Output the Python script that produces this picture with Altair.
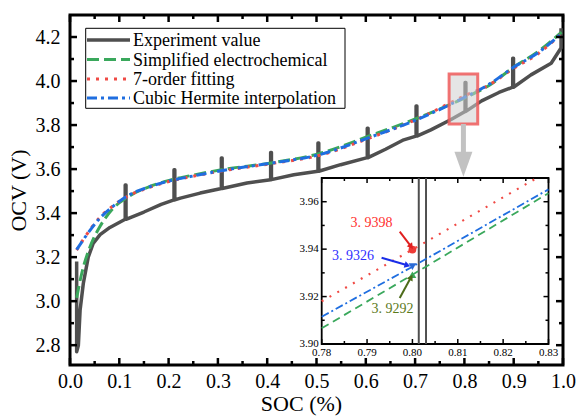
import math
import altair as alt
import pandas as pd

# ---------------- layout ----------------
W, H = 493, 350
PAD = {"left": 70, "top": 15, "right": 13, "bottom": 52}
FONT = "Liberation Serif"

X_DOM = [0.0, 1.0]
Y_DOM = [2.71, 4.30]
X_TICKS = [0.0, 0.1, 0.2, 0.3, 0.4, 0.5, 0.6, 0.7, 0.8, 0.9, 1.0]
X_MINOR = [0.05, 0.15, 0.25, 0.35, 0.45, 0.55, 0.65, 0.75, 0.85, 0.95]
Y_TICKS = [2.8, 3.0, 3.2, 3.4, 3.6, 3.8, 4.0, 4.2]
Y_MINOR = [2.9, 3.1, 3.3, 3.5, 3.7, 3.9, 4.1]

# ---------------- series names / styles ----------------
names = ["Experiment value", "Simplified electrochemical", "7-order fitting",
         "Cubic Hermite interpolation"]
colors = ["#4f4f4f", "#3aa85c", "#f04a45", "#1f6ee0"]
dashes = [[1, 0], [12, 5], [3, 6], [10, 4, 3, 4]]
widths = [3.5, 3, 3, 3]

# ---------------- experiment data (segments between relaxation spikes) ----------------
exp_seg_x = [[0.0135, 0.0135, 0.017, 0.0205, 0.027, 0.037, 0.047, 0.061, 0.081],
             [0.15, 0.185], [0.224, 0.264], [0.359], [0.454], [0.549],
             [0.64, 0.677], [0.732, 0.772], [0.835, 0.87], [0.935, 0.976]]
exp_seg_y = [[3.18, 2.77, 2.80, 2.96, 3.08, 3.20, 3.262, 3.302, 3.335],
             [3.405, 3.44], [3.468, 3.491], [3.537], [3.574], [3.62],
             [3.69, 3.733], [3.778, 3.824], [3.91, 3.948], [4.028, 4.081]]
spike_x = [0.112, 0.211, 0.307, 0.407, 0.503, 0.603, 0.702, 0.8014, 0.898, 0.996]
spike_x2 = [0.1136, 0.2126, 0.3086, 0.4086, 0.5046, 0.6046, 0.7036, 0.8030, 0.8996, 0.9976]
spike_bottom = [3.372, 3.46, 3.512, 3.552, 3.59, 3.652, 3.75, 3.862, 3.972, 4.15]
spike_top = [3.528, 3.597, 3.65, 3.675, 3.718, 3.786, 3.887, 3.993, 4.103, 4.24]

# ---------------- model curves ----------------
sim_x = [0.0135, 0.024, 0.041, 0.061, 0.088, 0.115, 0.163, 0.203, 0.244, 0.31, 0.408,
         0.505, 0.604, 0.703, 0.803, 0.85, 0.898, 0.95, 0.997]
sim_y = [3.015, 3.128, 3.249, 3.34, 3.423, 3.47, 3.522, 3.55, 3.57, 3.598, 3.628,
         3.67, 3.748, 3.83, 3.926, 3.98, 4.06, 4.135, 4.222]
fit_x = [0.0135, 0.027, 0.044, 0.061, 0.081, 0.115, 0.163, 0.203, 0.244, 0.31, 0.408,
         0.505, 0.604, 0.703, 0.803, 0.85, 0.898, 0.95, 0.997]
fit_y = [3.232, 3.28, 3.335, 3.382, 3.422, 3.474, 3.518, 3.545, 3.565, 3.592, 3.625,
         3.662, 3.738, 3.826, 3.935, 3.982, 4.055, 4.125, 4.215]
her_x = [0.0135, 0.027, 0.044, 0.061, 0.081, 0.115, 0.163, 0.203, 0.244, 0.31, 0.408,
         0.505, 0.604, 0.703, 0.803, 0.85, 0.898, 0.95, 0.997]
her_y = [3.234, 3.279, 3.332, 3.378, 3.419, 3.476, 3.521, 3.547, 3.566, 3.594, 3.627,
         3.665, 3.741, 3.824, 3.929, 3.985, 4.06, 4.13, 4.215]

# ---------------- highlight box + arrow (main coords) ----------------
hl_x = [0.769, 0.827]
hl_y = [3.805, 4.032]
garrow_x = 0.798
garrow_y = [3.805, 3.672]
garrow_head_y = 3.622

# ---------------- inset ----------------
IN_X_DOM = [0.78, 0.83]
IN_Y_DOM = [3.90, 3.97]
IN_PX = [251.7, 478.5]
IN_PY = [329.0, 163.0]
in_x_ticks = [0.78, 0.79, 0.80, 0.81, 0.82, 0.83]
in_x_minor = [0.785, 0.795, 0.805, 0.815, 0.825]
in_y_ticks = [3.90, 3.92, 3.94, 3.96]
in_y_minor = [3.91, 3.93, 3.95]

in_fit_x = [0.78, 0.80, 0.8274]
in_fit_y = [3.918, 3.9398, 3.970]
in_her_x = [0.78, 0.80, 0.83]
in_her_y = [3.9115, 3.9326, 3.9652]
in_sim_x = [0.78, 0.80, 0.83]
in_sim_y = [3.9066, 3.9292, 3.9636]

mk_x = [0.80, 0.80, 0.80]
mk_y = [3.9398, 3.9326, 3.9292]
mk_shape = ["circle", "triangle-down", "triangle-up"]
mk_color = ["#ee3a36", "#2a6bd6", "#3aa858"]

ann_text = ["3. 9398", "3. 9326", "3. 9292"]
ann_x = [0.7910, 0.7869, 0.7956]
ann_y = [3.9509, 3.9372, 3.9148]
ann_color = ["#ff3030", "#2f2fff", "#5b7a1a"]
arr_x0 = [0.7972, 0.7932, 0.7972]
arr_y0 = [3.9474, 3.9364, 3.9194]
arr_x1 = [0.7996, 0.7987, 0.7996]
arr_y1 = [3.9414, 3.9333, 3.9278]
arr_color = ["#e02020", "#1a2ee8", "#4d6b1a"]

# ================= build =================
x_axis = alt.Axis(values=X_TICKS, format=".1f", ticks=False, tickSize=0, domain=False, grid=False,
                  labelFont=FONT, labelFontSize=20, labelColor="black", labelPadding=6,
                  labelFlush=False, labelOverlap=False,
                  title="SOC (%)", titleFont=FONT, titleFontSize=22, titleFontWeight="normal",
                  titleColor="black", titlePadding=2, titleX=231)
y_axis = alt.Axis(values=Y_TICKS, format=".1f", ticks=False, tickSize=0, domain=False, grid=False,
                  labelFont=FONT, labelFontSize=20, labelColor="black", labelPadding=10,
                  labelFlush=False, labelOverlap=False,
                  title="OCV (V)", titleFont=FONT, titleFontSize=22, titleFontWeight="normal",
                  titleColor="black", titlePadding=5)


def mx(f="x"):
    return alt.X(f"{f}:Q", scale=alt.Scale(domain=X_DOM, nice=False, zero=False), axis=x_axis)


def my(f="y"):
    return alt.Y(f"{f}:Q", scale=alt.Scale(domain=Y_DOM, nice=False, zero=False), axis=y_axis)


def ix(f="x"):
    return alt.X(f"{f}:Q", scale=alt.Scale(domain=IN_X_DOM, range=IN_PX, nice=False, zero=False), axis=None)


def iy(f="y"):
    return alt.Y(f"{f}:Q", scale=alt.Scale(domain=IN_Y_DOM, range=IN_PY, nice=False, zero=False), axis=None)


# experiment path
px, py = [], []
for i in range(len(spike_x)):
    px += exp_seg_x[i]
    py += exp_seg_y[i]
    px += [spike_x[i], spike_x[i]]
    py += [spike_bottom[i], spike_top[i]]
    if i < len(spike_x) - 1:
        px += [spike_x2[i], spike_x2[i]]
        py += [spike_top[i], spike_bottom[i]]
exp_df = pd.DataFrame({"x": px, "y": py, "i": range(len(px))})

main_layers = []
main_layers.append(
    alt.Chart(exp_df).mark_line(color=colors[0], strokeWidth=widths[0], strokeJoin="round")
    .encode(x=mx(), y=my(), order=alt.Order("i:Q"))
)
for xs, ys, k in [(sim_x, sim_y, 1), (fit_x, fit_y, 2), (her_x, her_y, 3)]:
    df = pd.DataFrame({"x": xs, "y": ys})
    main_layers.append(
        alt.Chart(df).mark_line(color=colors[k], strokeWidth=widths[k], strokeDash=dashes[k],
                                interpolate="monotone")
        .encode(x=mx(), y=my())
    )

# legend (pixel layout)
LEG_BOX = (15.7, 275.0, 13.3, 93.3)
leg_rows = [25.0, 44.5, 64.0, 83.0]
one = pd.DataFrame({"a": [0]})
main_layers.append(
    alt.Chart(one).mark_rect(fill="white", stroke="black", strokeWidth=1)
    .encode(x=alt.value(LEG_BOX[0]), x2=alt.value(LEG_BOX[1]),
            y=alt.value(LEG_BOX[2]), y2=alt.value(LEG_BOX[3]))
)
for k, name in enumerate(names):
    main_layers.append(
        alt.Chart(one).mark_rule(color=colors[k], strokeWidth=widths[k], strokeDash=dashes[k])
        .encode(x=alt.value(17), x2=alt.value(60), y=alt.value(leg_rows[k]))
    )
    main_layers.append(
        alt.Chart(one).mark_text(align="left", baseline="middle", font=FONT, fontSize=18,
                                 color="black", text=name)
        .encode(x=alt.value(63), y=alt.value(leg_rows[k] + 1))
    )

# highlight box and grey arrow
hl_df = pd.DataFrame({"x": [hl_x[0]], "x2": [hl_x[1]], "y": [hl_y[0]], "y2": [hl_y[1]]})
main_layers.append(
    alt.Chart(hl_df).mark_rect(fill="#cfcfcf", fillOpacity=0.55, stroke="#ef5a5a",
                               strokeOpacity=0.85, strokeWidth=3)
    .encode(x=mx(), x2="x2", y=my(), y2="y2")
)
ga_df = pd.DataFrame({"x": [garrow_x], "y": [garrow_y[0]], "y2": [garrow_y[1]], "yh": [garrow_head_y]})
main_layers.append(
    alt.Chart(ga_df).mark_rule(color="#c2c2c2", strokeWidth=5)
    .encode(x=mx(), y=my(), y2="y2")
)
main_layers.append(
    alt.Chart(ga_df).mark_point(shape="M-0.72,-1L0.72,-1L0,1Z", filled=True, color="#c2c2c2",
                                opacity=1, size=625)
    .encode(x=mx(), y=my("yh"))
)


# main ticks (inward, all four sides)
def vticks(vals, L, y_edge, inward):
    df = pd.DataFrame({"x": vals})
    return (alt.Chart(df).mark_rule(color="black", strokeWidth=2.5)
            .encode(x=mx(), y=alt.value(y_edge), y2=alt.value(y_edge + inward * L)))


def hticks(vals, L, x_edge, inward):
    df = pd.DataFrame({"y": vals})
    return (alt.Chart(df).mark_rule(color="black", strokeWidth=2.5)
            .encode(y=my(), x=alt.value(x_edge), x2=alt.value(x_edge + inward * L)))


main_layers += [vticks(X_TICKS, 7, H, -1), vticks(X_MINOR, 4, H, -1),
                vticks(X_TICKS, 7, 0, 1), vticks(X_MINOR, 4, 0, 1),
                hticks(Y_TICKS, 7, 0, 1), hticks(Y_MINOR, 4, 0, 1),
                hticks(Y_TICKS, 7, W, -1), hticks(Y_MINOR, 4, W, -1)]

main = alt.layer(*main_layers)

# ---------------- inset ----------------
inset_layers = []
frame_df = pd.DataFrame({"x": [IN_X_DOM[0]], "x2": [IN_X_DOM[1]], "y": [IN_Y_DOM[0]], "y2": [IN_Y_DOM[1]]})
inset_layers.append(
    alt.Chart(frame_df).mark_rect(fill="white", stroke="black", strokeWidth=1.8)
    .encode(x=ix(), x2="x2", y=iy(), y2="y2")
)
# experiment relaxation spike at 0.80 (two vertical strokes)
vl_df = pd.DataFrame({"x": [spike_x[7], spike_x2[7]], "y": [IN_Y_DOM[0]] * 2, "y2": [IN_Y_DOM[1]] * 2})
inset_layers.append(
    alt.Chart(vl_df).mark_rule(color=colors[0], strokeWidth=2)
    .encode(x=ix(), y=iy(), y2="y2")
)
for xs, ys, k, dash, sw in [(in_sim_x, in_sim_y, 1, [8, 5], 1.8),
                            (in_her_x, in_her_y, 3, [8, 3, 2, 3], 1.8),
                            (in_fit_x, in_fit_y, 2, [2, 7], 2.2)]:
    df = pd.DataFrame({"x": xs, "y": ys})
    inset_layers.append(
        alt.Chart(df).mark_line(color=colors[k], strokeWidth=sw, strokeDash=dash)
        .encode(x=ix(), y=iy())
    )
for j in range(3):
    df = pd.DataFrame({"x": [mk_x[j]], "y": [mk_y[j]]})
    inset_layers.append(
        alt.Chart(df).mark_point(shape=mk_shape[j], filled=True, color=mk_color[j], opacity=1, size=60)
        .encode(x=ix(), y=iy())
    )


def to_px(x, y):
    sx = IN_PX[0] + (x - IN_X_DOM[0]) / (IN_X_DOM[1] - IN_X_DOM[0]) * (IN_PX[1] - IN_PX[0])
    sy = IN_PY[0] + (y - IN_Y_DOM[0]) / (IN_Y_DOM[1] - IN_Y_DOM[0]) * (IN_PY[1] - IN_PY[0])
    return sx, sy


for j in range(3):
    df = pd.DataFrame({"x": [arr_x0[j]], "y": [arr_y0[j]], "x2": [arr_x1[j]], "y2": [arr_y1[j]]})
    inset_layers.append(
        alt.Chart(df).mark_rule(color=arr_color[j], strokeWidth=2)
        .encode(x=ix(), y=iy(), x2="x2", y2="y2")
    )
    a0 = to_px(arr_x0[j], arr_y0[j])
    a1 = to_px(arr_x1[j], arr_y1[j])
    ang = math.degrees(math.atan2(a1[0] - a0[0], -(a1[1] - a0[1]))) % 360
    hd = pd.DataFrame({"x": [arr_x1[j]], "y": [arr_y1[j]]})
    inset_layers.append(
        alt.Chart(hd).mark_point(shape="triangle", filled=True, color=arr_color[j], opacity=1,
                                 size=45, angle=ang)
        .encode(x=ix(), y=iy())
    )
    td = pd.DataFrame({"x": [ann_x[j]], "y": [ann_y[j]], "t": [ann_text[j]]})
    inset_layers.append(
        alt.Chart(td).mark_text(font=FONT, fontSize=14, color=ann_color[j], align="center",
                                baseline="middle")
        .encode(x=ix(), y=iy(), text="t:N")
    )

# inset ticks
IB, IT = IN_PY[0], IN_PY[1]
IL, IR = IN_PX[0], IN_PX[1]


def ivt(vals, L, edge, inward):
    df = pd.DataFrame({"x": vals})
    return (alt.Chart(df).mark_rule(color="black", strokeWidth=1.5)
            .encode(x=ix(), y=alt.value(edge), y2=alt.value(edge + inward * L)))


def iht(vals, L, edge, inward):
    df = pd.DataFrame({"y": vals})
    return (alt.Chart(df).mark_rule(color="black", strokeWidth=1.5)
            .encode(y=iy(), x=alt.value(edge), x2=alt.value(edge + inward * L)))


inset_layers += [ivt(in_x_ticks, 5, IB, -1), ivt(in_x_minor, 3, IB, -1),
                 ivt(in_x_ticks, 5, IT, 1), ivt(in_x_minor, 3, IT, 1),
                 iht(in_y_ticks, 5, IL, 1), iht(in_y_minor, 3, IL, 1),
                 iht(in_y_ticks, 5, IR, -1), iht(in_y_minor, 3, IR, -1)]

xl = pd.DataFrame({"x": in_x_ticks, "t": [f"{v:.2f}" for v in in_x_ticks]})
inset_layers.append(
    alt.Chart(xl).mark_text(font=FONT, fontSize=11, color="black", align="center", baseline="top")
    .encode(x=ix(), y=alt.value(IB + 3), text="t:N")
)
yl = pd.DataFrame({"y": in_y_ticks, "t": [f"{v:.2f}" for v in in_y_ticks]})
inset_layers.append(
    alt.Chart(yl).mark_text(font=FONT, fontSize=11, color="black", align="right", baseline="middle")
    .encode(y=iy(), x=alt.value(IL - 3), text="t:N")
)

inset = alt.layer(*inset_layers)

chart = (
    alt.layer(main, inset)
    .resolve_scale(x="independent", y="independent")
    .properties(width=W, height=H, autosize=alt.AutoSizeParams(type="none"), padding=PAD,
                background="white")
    .configure_view(stroke="black", strokeWidth=3)
)

chart.save("out.html", embed_options={"renderer": "svg", "actions": False})
